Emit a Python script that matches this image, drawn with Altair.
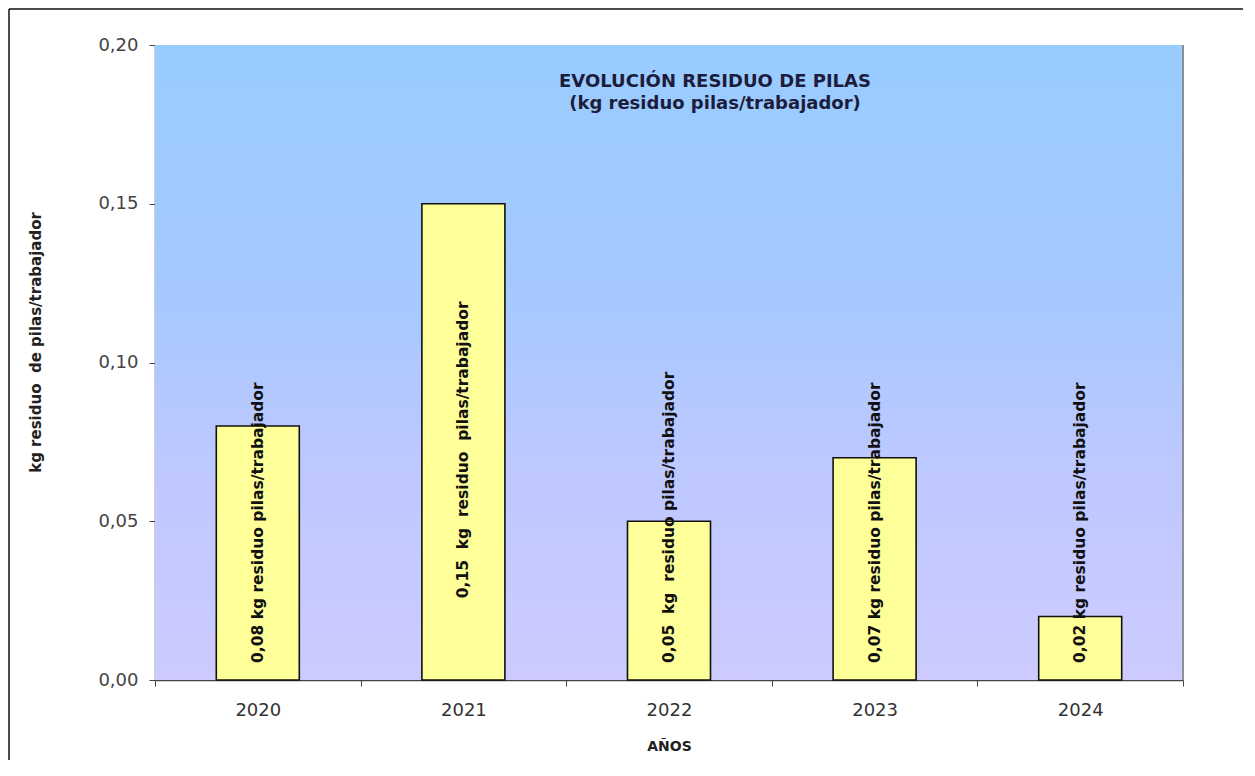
import altair as alt
import pandas as pd

years = ["2020", "2021", "2022", "2023", "2024"]
values = [0.08, 0.15, 0.05, 0.07, 0.02]
NB = "\u00a0"
labels = [
    "0,08 kg residuo pilas/trabajador",
    f"0,15 {NB}kg {NB}residuo {NB}pilas/trabajador",
    f"0,05 {NB}kg {NB}residuo pilas/trabajador",
    "0,07 kg residuo pilas/trabajador",
    "0,02 kg residuo pilas/trabajador",
]
y_ticks = [0.0, 0.05, 0.10, 0.15, 0.20]
title_lines = ["EVOLUCIÓN RESIDUO DE PILAS", "(kg residuo pilas/trabajador)"]

W, H = 1028, 635
df = pd.DataFrame({"year": years, "value": values, "label": labels})
one = pd.DataFrame({"a": [0]})

FONT = "DejaVu Sans"

x_enc = alt.X(
    "year:N",
    title="AÑOS",
    sort=years,
    scale=alt.Scale(paddingInner=0, paddingOuter=0),
    axis=alt.Axis(
        labelAngle=0, labelFontSize=18, labelColor="#333333", labelFont=FONT,
        labelPadding=15, tickBand="extent", tickSize=6, tickColor="#444444",
        domainColor="#444444", domainWidth=1.5,
        titleFont=FONT, titleFontSize=14, titleFontWeight="bold",
        titleColor="#222222", titlePadding=20,
    ),
)
y_enc = alt.Y(
    "value:Q",
    title=f"kg residuo {NB}de pilas/trabajador",
    scale=alt.Scale(domain=[0, 0.2], nice=False, zero=True),
    axis=alt.Axis(
        values=y_ticks, grid=False,
        labelExpr="replace(format(datum.value, '.2f'), '.', ',')",
        labelFontSize=18, labelColor="#444444", labelFont=FONT, labelPadding=11,
        tickSize=6, tickColor="#444444", domainColor="#444444", domainWidth=1.5,
        titleFont=FONT, titleFontSize=15, titleFontWeight="bold", titleColor="#222222",
        titleX=-120, titleY=297, titleAlign="center", titleBaseline="middle",
    ),
)

bg = alt.Chart(one).mark_rect(
    color=alt.Gradient(
        gradient="linear",
        stops=[
            alt.GradientStop(color="#99CCFF", offset=0),
            alt.GradientStop(color="#A6C9FF", offset=0.4),
            alt.GradientStop(color="#BCC8FF", offset=0.64),
            alt.GradientStop(color="#CDCBFF", offset=1),
        ],
        x1=0, x2=0, y1=0, y2=1,
    )
).encode(x=alt.value(0), x2=alt.value(W), y=alt.value(0), y2=alt.value(H))

bars = alt.Chart(df).mark_bar(
    color="#FFFF99", stroke="#111111", strokeWidth=1.6, size=83
).encode(x=x_enc, y=y_enc)

base_labels = alt.Chart(df).transform_filter("datum.value <= 0.1").transform_calculate(
    zero="0"
).mark_text(
    angle=270, align="left", baseline="middle", dx=17,
    font=FONT, fontSize=15.5, fontWeight="bold", color="#111111",
).encode(x=alt.X("year:N", sort=years), y=alt.Y("zero:Q"), text="label:N")

mid_labels = alt.Chart(df).transform_filter("datum.value > 0.1").transform_calculate(
    mid="datum.value / 2"
).mark_text(
    angle=270, align="center", baseline="middle", dx=-8,
    font=FONT, fontSize=15.5, fontWeight="bold", color="#111111",
).encode(x=alt.X("year:N", sort=years), y=alt.Y("mid:Q"), text="label:N")

title = alt.Chart(one).mark_text(
    font=FONT, fontSize=18, fontWeight="bold", color="#1C1C3C",
    align="center", baseline="middle", lineHeight=22,
).encode(x=alt.value(560), y=alt.value(37), text=alt.value(title_lines))

right_rule = alt.Chart(one).mark_rule(color="#777777", strokeWidth=1.5).encode(
    x=alt.value(W), y=alt.value(0), y2=alt.value(H)
)
top_border = alt.Chart(one).mark_rule(color="#111111", strokeWidth=1.5).encode(
    x=alt.value(-146), x2=alt.value(W + 60), y=alt.value(-36)
)
left_border = alt.Chart(one).mark_rule(color="#111111", strokeWidth=1.5).encode(
    x=alt.value(-146), y=alt.value(-36), y2=alt.value(H + 80)
)

chart = alt.layer(
    bg, bars, base_labels, mid_labels, title, right_rule, top_border, left_border
).properties(
    width=W, height=H,
    autosize=alt.AutoSizeParams(type="none"),
    padding={"left": 147, "top": 37, "right": 62, "bottom": 80},
).configure_view(stroke=None).configure(background="white")

chart.save("out.html", embed_options={"renderer": "svg", "actions": False})
